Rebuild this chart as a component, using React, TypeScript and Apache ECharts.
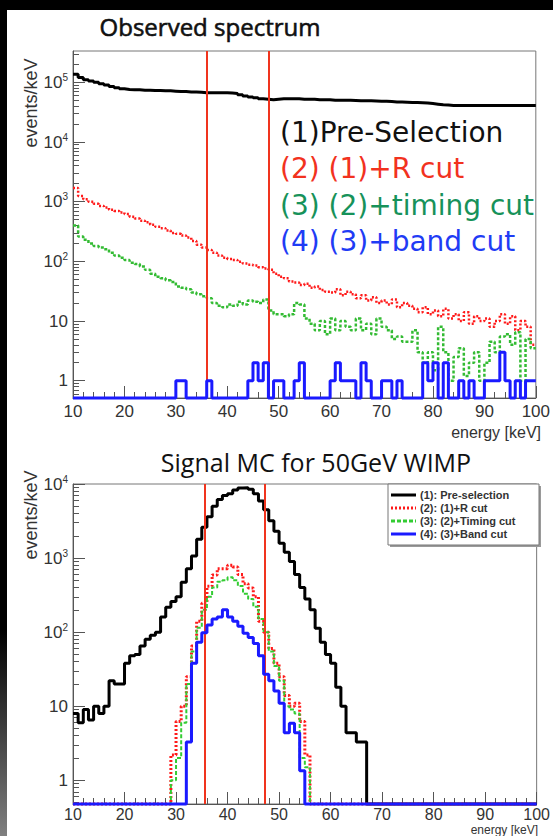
import React, { useEffect, useRef } from "react";
import * as echarts from "echarts";

// ---------------- data ----------------
// Observed spectrum (events/keV), 1 keV bins starting at 10 keV
const topBinLow = 10;
const topBinWidth = 1;
const topPreSelection = [
  136000, 120000, 110000, 105000, 100000, 95000, 90000, 85000, 81000, 78000,
  76000, 75000, 75000, 74000, 74000, 73000, 73000, 72000, 72000, 71000,
  70000, 70000, 69000, 69000, 68000, 67000, 67000, 67000, 67000, 67000,
  66000, 65000, 62000, 59000, 57000, 55000, 53000, 52000, 51000, 52000,
  53000, 53000, 53000, 53000, 52000, 52000, 52000, 51000, 51000, 51000,
  50000, 50000, 50000, 50000, 49500, 49000, 49000, 49000, 48500, 48000,
  48000, 47500, 47000, 47000, 46500, 46000, 46000, 45500, 45000, 44000,
  43000, 42000, 41500, 41000, 41000, 41000, 41000, 41000, 41000, 41000,
  41000, 41000, 41000, 41000, 41000, 41000, 41000, 41000, 41000, 41000,
];
const topRCut = [
  1700, 1250, 1100, 1000, 920, 850, 800, 730, 700, 660,
  620, 560, 520, 480, 450, 410, 380, 360, 330, 300,
  290, 270, 250, 220, 190, 170, 155, 140, 125, 115,
  110, 105, 98, 92, 88, 85, 80, 76, 72, 62,
  55, 52, 46, 44, 40, 42, 36, 38, 33, 31,
  30, 34, 27, 31, 28, 24, 27, 22, 25, 20,
  22, 19, 23, 17, 20, 18, 16, 14, 17, 13,
  15, 12, 16, 11, 13, 10, 14, 9, 12, 10,
  11, 8, 10, 13, 9, 12, 7, 10, 8, 4,
];
const topTimingCut = [
  400, 260, 230, 200, 180, 170, 160, 140, 125, 115,
  105, 95, 90, 82, 72, 62, 55, 52, 48, 45,
  38, 36, 34, 30, 28, 26, 24, 20, 18, 17,
  19, 18, 21, 19, 22, 21, 20, 23, 15, 13,
  13, 12, 13, 20, 19, 11, 9, 7, 10, 6,
  11, 7, 10, 8, 7, 11, 7, 9, 6, 11,
  8, 7, 5, 5.5, 4.5, 4.5, 7, 3, 2, 3,
  1.5, 8, 3, 1, 2.5, 3.5, 1.2, 2, 3, 1,
  2, 4.5, 3, 5.5, 6, 4, 6.5, 1, 5, 3.5,
];
const topBandCut = [
  0, 0, 0, 0, 0, 0, 0, 0, 0, 0,
  0, 0, 0, 0, 0, 0, 0, 0, 0, 0,
  1, 1, 0, 0, 0, 0, 1, 0, 0, 0,
  0, 0, 0, 0, 1, 2, 1, 2, 0, 1,
  1, 0, 0, 1, 2, 0, 0, 0, 0, 0,
  1, 2, 1, 1, 1, 0, 2, 1, 0, 0,
  1, 1, 0, 1, 0, 0, 0, 0, 2, 1,
  2, 0, 2, 0, 0, 1, 0, 1, 0, 0,
  1, 1, 1, 3, 1, 0, 1, 0, 1, 1,
];
const topCutEdges = [36, 48];

// Signal MC for 50 GeV WIMP (events/keV), 1 keV bins
const mcPreSelStart = 10;
const mcPreSelection = [
  8, 6, 9, 6.5, 10, 8, 10, 22, 20, 20,
  38, 48, 50, 65, 80, 91, 100, 160, 216, 260,
  300, 470, 720, 1070, 1800, 2600, 3600, 5000, 6200, 7000,
  7400, 8300, 8800, 8900, 8500, 7400, 5900, 4500, 3200, 2300,
  1580, 1200, 900, 600, 400, 280, 200, 113, 73, 50,
  38, 18, 10, 4.4, 4.4, 3.3, 3.3,
];
const mcRCutStart = 29;
const mcRCut = [
  2.2, 6.2, 10, 25, 65, 140, 245, 415, 590, 720,
  720, 800, 760, 600, 450, 395, 300, 140, 100, 60,
  38, 25, 14, 10, 11, 6.2, 2.2,
];
const mcTimingStart = 29;
const mcTimingCut = [
  1, 2, 6, 20, 55, 115, 200, 300, 400, 480,
  500, 550, 500, 420, 330, 280, 220, 150, 100, 55,
  35, 22, 10, 9, 8, 2, 1.5,
];
const mcBandStart = 32;
const mcBandCut = [
  3.3, 38, 73, 98, 125, 150, 160, 200, 160, 140,
  120, 97, 85, 70, 48, 27, 22, 16, 11, 4.4,
  5.9, 4.4, 1.35,
];
const mcCutEdges = [35.5, 47.3];

const topDecades = [0, 1, 2, 3, 4, 5];
const mcDecades = [0, 1, 2, 3, 4];

const topTexts = [
  { text: "(1)Pre-Selection", color: "#111111" },
  { text: "(2) (1)+R cut", color: "#f2321e" },
  { text: "(3) (2)+timing cut", color: "#17925a" },
  { text: "(4) (3)+band cut", color: "#1f3cf5" },
];
const mcLegend = [
  "(1): Pre-selection",
  "(2): (1)+R cut",
  "(3): (2)+Timing cut",
  "(4): (3)+Band cut",
];

// ---------------- helpers ----------------
const TOP_MIN = -0.29;
const TOP_MAX = 5.525;
const MC_MIN = -0.32;
const MC_MAX = 4;
const X_LO = 10;
const X_HI = 100;

function stepData(start: number, width: number, vals: number[], floor: number) {
  const pts: number[][] = [];
  const lg = (v: number) => (v > 0 ? Math.log10(v) : floor);
  if (start > X_LO) pts.push([X_LO, floor]);
  vals.forEach((v, i) => pts.push([start + i * width, lg(v)]));
  const end = start + vals.length * width;
  if (end < X_HI) {
    pts.push([end, floor]);
    pts.push([X_HI, floor]);
  } else {
    pts.push([end, lg(vals[vals.length - 1])]);
  }
  return pts;
}

function minorTicks(lo: number, hi: number) {
  const out: number[] = [];
  for (let d = -1; d <= 6; d++) {
    for (let k = 2; k <= 9; k++) {
      const v = d + Math.log10(k);
      if (v > lo && v < hi) out.push(v);
    }
  }
  return out;
}

const AX = "#555";
const LABEL_FONT = "'Liberation Sans', Arial, sans-serif";

function yAxes(grid: number, min: number, max: number, decades: number[]) {
  return [
    {
      type: "value",
      gridIndex: grid,
      min,
      max,
      position: "left",
      axisLine: { show: true, onZero: false, lineStyle: { color: AX, width: 1 } },
      axisTick: { show: true, inside: true, length: 12, customValues: decades, lineStyle: { color: AX } },
      axisLabel: {
        customValues: decades,
        margin: 5,
        color: "#333",
        fontSize: 17,
        fontFamily: LABEL_FONT,
        formatter: (v: number) => {
          const n = Math.round(v);
          if (n === 0) return "1";
          if (n === 1) return "10";
          return "{b|10}{s|" + n + "}";
        },
        rich: {
          b: { fontSize: 17, color: "#333", fontFamily: LABEL_FONT, lineHeight: 20 },
          s: { fontSize: 10, color: "#333", fontFamily: LABEL_FONT, verticalAlign: "top", lineHeight: 12 },
        },
      },
      splitLine: { show: false },
    },
    {
      type: "value",
      gridIndex: grid,
      min,
      max,
      position: "left",
      axisLine: { show: false, onZero: false },
      axisTick: { show: true, inside: true, length: 6, customValues: minorTicks(min, max), lineStyle: { color: AX } },
      axisLabel: { show: false },
      splitLine: { show: false },
    },
  ];
}

function xAxis(grid: number, fontSize: number, margin: number) {
  return {
    type: "value",
    gridIndex: grid,
    min: X_LO,
    max: X_HI,
    interval: 10,
    position: "bottom",
    axisLine: { show: true, onZero: false, lineStyle: { color: AX, width: 1 } },
    axisTick: { show: true, inside: true, length: 12, lineStyle: { color: AX } },
    minorTick: { show: true, splitNumber: 5, length: 6, lineStyle: { color: AX } },
    axisLabel: { margin, color: "#333", fontSize, fontFamily: LABEL_FONT },
    splitLine: { show: false },
  };
}

function line(xi: number, yi: number, data: number[][], color: string, width: number, type: any, z: number, extra: any = {}) {
  return {
    type: "line",
    xAxisIndex: xi,
    yAxisIndex: yi,
    data,
    step: "end",
    symbol: "none",
    clip: false,
    silent: true,
    z,
    lineStyle: { color, width, type },
    ...extra,
  };
}

function cutLines(edges: number[]) {
  return {
    symbol: "none",
    silent: true,
    label: { show: false },
    lineStyle: { color: "#f0341e", width: 2, type: "solid" },
    data: edges.map((x) => ({ xAxis: x })),
  };
}

export default function App() {
  const ref = useRef<HTMLDivElement>(null);
  useEffect(() => {
    if (!ref.current) return;
    const chart = echarts.init(ref.current, null, { renderer: "svg" });

    const graphics: any[] = [
      { type: "rect", z: -100, shape: { x: 7, y: 10, width: 546, height: 826 }, style: { fill: "#ffffff" } },
      {
        type: "rect",
        z: -100,
        shape: { x: 0, y: 630, width: 7, height: 206 },
        style: {
          fill: new echarts.graphic.LinearGradient(0, 0, 0, 1, [
            { offset: 0, color: "#000" },
            { offset: 1, color: "#808080" },
          ]),
        },
      },
      {
        type: "text",
        z: 50,
        x: 210,
        y: 26,
        style: {
          text: "Observed spectrum",
          font: "400 24px 'Open Sans', sans-serif",
          fill: "#111",
          stroke: "#111",
          lineWidth: 0.6,
          align: "center",
          verticalAlign: "middle",
        },
      },
      {
        type: "text",
        z: 50,
        x: 316,
        y: 462,
        style: { text: "Signal MC for 50GeV WIMP", font: "400 25px 'Open Sans', sans-serif", fill: "#111", align: "center", verticalAlign: "middle" },
      },
      {
        type: "text",
        z: 50,
        x: 31,
        y: 103,
        rotation: Math.PI / 2,
        style: { text: "events/keV", font: "18px " + LABEL_FONT, fill: "#333", align: "center", verticalAlign: "middle" },
      },
      {
        type: "text",
        z: 50,
        x: 31,
        y: 515,
        rotation: Math.PI / 2,
        style: { text: "events/keV", font: "18px " + LABEL_FONT, fill: "#333", align: "center", verticalAlign: "middle" },
      },
      {
        type: "text",
        z: 50,
        x: 541,
        y: 432,
        style: { text: "energy [keV]", font: "16px " + LABEL_FONT, fill: "#333", align: "right", verticalAlign: "middle" },
      },
      {
        type: "text",
        z: 50,
        x: 538,
        y: 830,
        style: { text: "energy [keV]", font: "12px " + LABEL_FONT, fill: "#333", align: "right", verticalAlign: "middle" },
      },
    ];
    topTexts.forEach((t, i) => {
      graphics.push({
        type: "text",
        z: 50,
        x: 280,
        y: 132 + i * 36.5,
        style: { text: t.text, font: "28px 'DejaVu Sans', sans-serif", fill: t.color, align: "left", verticalAlign: "middle" },
      });
    });
    // legend box of the MC panel
    graphics.push({ type: "rect", z: 40, shape: { x: 390, y: 486, width: 151, height: 61 }, style: { fill: "#9a9a9a" } });
    graphics.push({ type: "rect", z: 41, shape: { x: 388, y: 484, width: 151, height: 61 }, style: { fill: "#fff", stroke: "#777", lineWidth: 1 } });
    const legendStyles = [
      { color: "#000", dash: "solid" as any },
      { color: "#ff1a1a", dash: [2, 2] as any },
      { color: "#33cc33", dash: [4, 2] as any },
      { color: "#1a1aff", dash: "solid" as any },
    ];
    mcLegend.forEach((t, i) => {
      const y = 495 + i * 13;
      graphics.push({
        type: "line",
        z: 42,
        shape: { x1: 391, y1: y, x2: 416, y2: y },
        style: { stroke: legendStyles[i].color, lineWidth: 3, lineDash: legendStyles[i].dash === "solid" ? null : legendStyles[i].dash },
      });
      graphics.push({
        type: "text",
        z: 42,
        x: 420,
        y,
        style: { text: t, font: "bold 11px " + LABEL_FONT, fill: "#333", align: "left", verticalAlign: "middle" },
      });
    });

    const option: any = {
      animation: false,
      backgroundColor: "#000000",
      graphic: graphics,
      grid: [
        { left: 73, top: 51, width: 468, height: 347, show: true, borderColor: "#777", borderWidth: 1, backgroundColor: "transparent" },
        { left: 73, top: 484, width: 466, height: 320, show: true, borderColor: "#777", borderWidth: 1, backgroundColor: "transparent" },
      ],
      xAxis: [xAxis(0, 17, 5), xAxis(1, 16, 2)],
      yAxis: [...yAxes(0, TOP_MIN, TOP_MAX, topDecades), ...yAxes(1, MC_MIN, MC_MAX, mcDecades)],
      series: [
        line(0, 0, stepData(topBinLow, topBinWidth, topPreSelection, TOP_MIN), "#000", 3, "solid", 2),
        line(0, 0, stepData(topBinLow, topBinWidth, topRCut, TOP_MIN), "#ff1a1a", 2.5, [2, 2], 3),
        line(0, 0, stepData(topBinLow, topBinWidth, topTimingCut, TOP_MIN), "#33bb33", 2.5, [3, 2], 4),
        line(0, 0, stepData(topBinLow, topBinWidth, topBandCut, TOP_MIN), "#1a1aff", 3, "solid", 5, { markLine: cutLines(topCutEdges) }),
        line(1, 2, stepData(mcPreSelStart, 1, mcPreSelection, MC_MIN), "#000", 3, "solid", 2),
        line(1, 2, stepData(mcRCutStart, 1, mcRCut, MC_MIN), "#ff1a1a", 3, [2, 2], 3),
        line(1, 2, stepData(mcTimingStart, 1, mcTimingCut, MC_MIN), "#33cc33", 2, [4, 2], 4),
        line(1, 2, stepData(mcBandStart, 1, mcBandCut, MC_MIN), "#1a1aff", 3, "solid", 5, { markLine: cutLines(mcCutEdges) }),
      ],
    };
    chart.setOption(option);
    return () => chart.dispose();
  }, []);
  return <div ref={ref} style={{ position: "absolute", left: 0, top: 0, width: 553, height: 836 }} />;
}
